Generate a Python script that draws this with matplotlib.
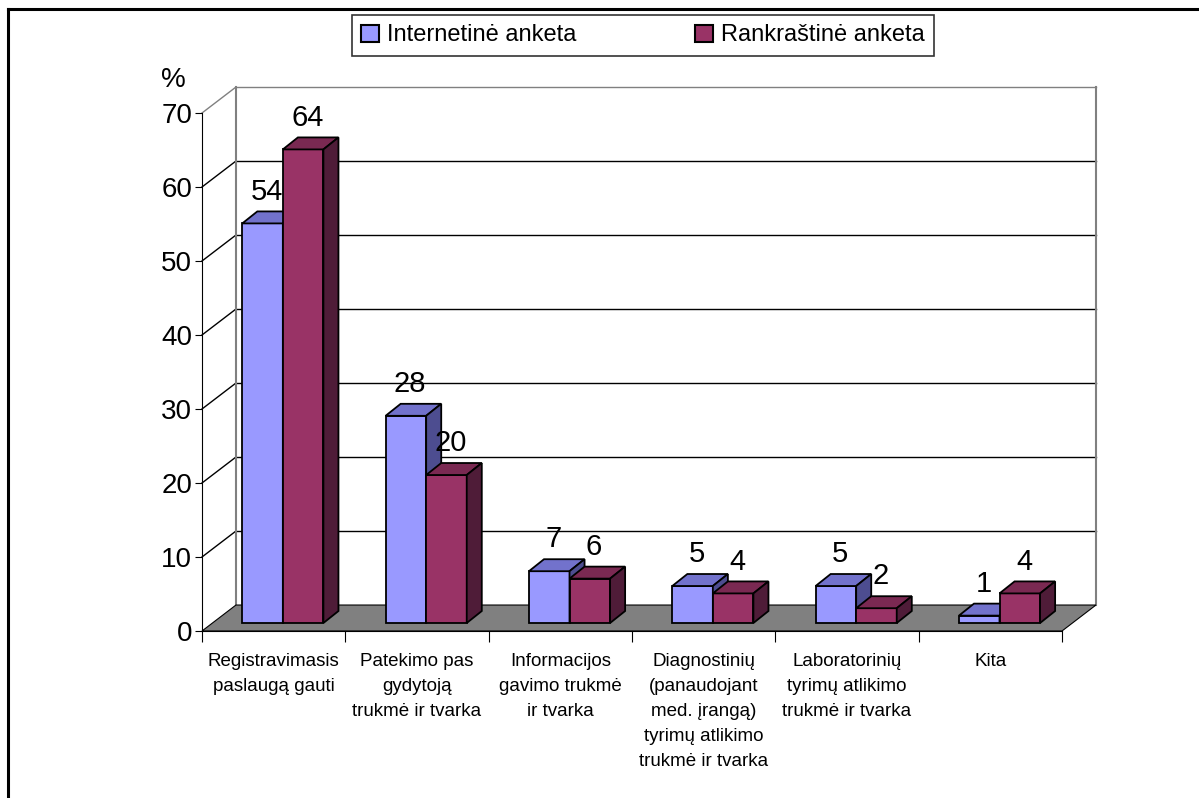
import matplotlib.pyplot as plt
from matplotlib.patches import Polygon, Patch
from matplotlib.lines import Line2D

plt.rcParams['font.family'] = ['Liberation Sans', 'DejaVu Sans']

# duomenys
kategorijos = ["Registravimasis\npaslaugą gauti",
               "Patekimo pas\ngydytoją\ntrukmė ir tvarka",
               "Informacijos\ngavimo trukmė\nir tvarka",
               "Diagnostinių\n(panaudojant\nmed. įrangą)\ntyrimų atlikimo\ntrukmė ir tvarka",
               "Laboratorinių\ntyrimų atlikimo\ntrukmė ir tvarka",
               "Kita"]
internetine = [54, 28, 7, 5, 5, 1]
rankrastine = [64, 20, 6, 4, 2, 4]
serijos = ["Internetinė anketa", "Rankraštinė anketa"]
y_ticks = [0, 10, 20, 30, 40, 50, 60, 70]

# spalvos: priekis, viršus, šonas
spalvos = [("#9999FF", "#7272CC", "#4D4D90"),
           ("#993366", "#7A2952", "#4F1C38")]

# 3D iliuzija (duomenų vienetais)
DX, DY = 0.237, 3.51        # sienos gylis
BY0 = 1.08                  # stulpelio pradžia gylyje
BDX, BDY = 0.105, 1.62      # stulpelio gylis
W = 0.283                   # stulpelio plotis
X0 = 0.281                  # pirmo stulpelio poslinkis kategorijoje

fig = plt.figure(figsize=(11.99, 7.98), dpi=100)
ax = fig.add_axes([202/1199, 1-631/798, 860/1199, 518/798])
ax.set_xlim(0, 6)
ax.set_ylim(0, 70)
n = len(kategorijos)

# galinė ir šoninė sienos, tinklelis
for t in y_ticks[1:]:
    c = '#808080' if t == 70 else 'black'
    ax.plot([DX, n + DX], [t + DY, t + DY], color=c, lw=1, clip_on=False, zorder=1)
    ax.plot([0, DX], [t, t + DY], color=c, lw=1, clip_on=False, zorder=1)
ax.plot([DX, DX], [DY, 70 + DY], color='#808080', lw=1.5, clip_on=False, zorder=1)
ax.plot([n + DX, n + DX], [DY, 70 + DY], color='#808080', lw=1.5, clip_on=False, zorder=1)

# grindys
ax.add_patch(Polygon([(0, 0), (n, 0), (n + DX, DY), (DX, DY)], closed=True,
                     facecolor='#808080', edgecolor='black', lw=0.8,
                     clip_on=False, zorder=2))


def stulpelis(x0, v, sp):
    y0 = BY0
    y1 = BY0 + v
    priekis = [(x0, y0), (x0 + W, y0), (x0 + W, y1), (x0, y1)]
    virsus = [(x0, y1), (x0 + W, y1), (x0 + W + BDX, y1 + BDY), (x0 + BDX, y1 + BDY)]
    sonas = [(x0 + W, y0), (x0 + W + BDX, y0 + BDY), (x0 + W + BDX, y1 + BDY), (x0 + W, y1)]
    for pts, c in zip([priekis, virsus, sonas], sp):
        ax.add_patch(Polygon(pts, closed=True, facecolor=c, edgecolor='black',
                             lw=1.3, joinstyle='miter', clip_on=False, zorder=3))
    ax.text(x0 + W/2 + 0.03, y1 + BDY + 0.8, str(v), ha='center', va='bottom',
            fontsize=21, zorder=4)


for i in range(n):
    for j, reiksmes in enumerate([internetine, rankrastine]):
        stulpelio_x = i + X0 + j*W
        stulpelis(stulpelio_x, reiksmes[i], spalvos[j])

# ašys
for s in ['top', 'right']:
    ax.spines[s].set_visible(False)
for s in ['left', 'bottom']:
    ax.spines[s].set_zorder(5)
ax.set_yticks(y_ticks)
ax.tick_params(axis='y', labelsize=20, length=5, direction='out', pad=2)
ax.set_xticks(range(n + 1))
ax.set_xticklabels([])
ax.tick_params(axis='x', which='major', length=8, direction='out')
ax.set_xticks([i + 0.5 for i in range(n)], kategorijos, minor=True)
ax.tick_params(axis='x', which='minor', length=0, pad=16, labelsize=13.5)
for lbl in ax.get_xticklabels(minor=True):
    lbl.set_linespacing(1.62)
ax.set_facecolor('none')

ax.text(-0.033, 1.064, '%', transform=ax.transAxes, ha='center', va='center', fontsize=20)

# legenda
rankenos = [Patch(facecolor=spalvos[k][0], edgecolor='black', lw=1.5) for k in range(2)]
fig.legend(rankenos, serijos, loc='upper left', bbox_to_anchor=(352/1199, 1 - 15/798),
           ncol=2, fontsize=17, frameon=True, fancybox=False, edgecolor='black',
           handlelength=0.75, handleheight=0.75, handletextpad=0.35, columnspacing=5.0,
           borderpad=0.4, borderaxespad=0)
fig.legends[0].get_frame().set_linewidth(1.2)

# rėmelis
fig.add_artist(Line2D([8/1199, 1], [1 - 9/798, 1 - 9/798], color='black', lw=2.2,
                      transform=fig.transFigure))
fig.add_artist(Line2D([8/1199, 8/1199], [0, 1 - 9/798], color='black', lw=2.2,
                      transform=fig.transFigure))

fig.savefig('out.png', dpi=100)
